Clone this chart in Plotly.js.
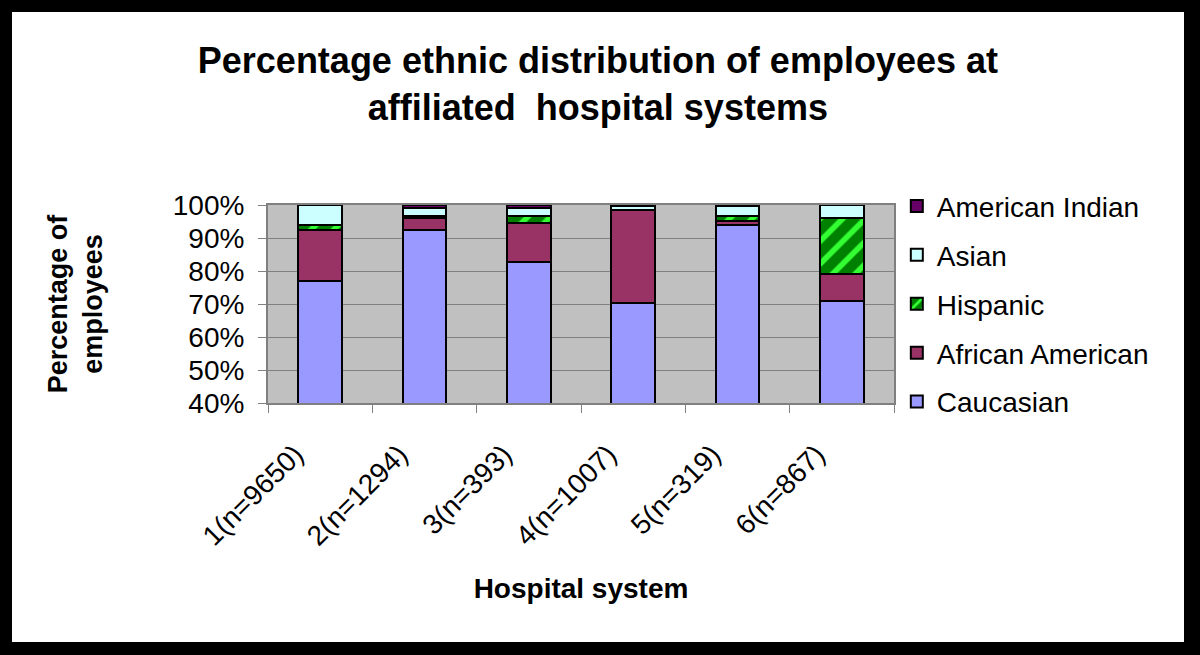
<!DOCTYPE html>
<html>
<head>
<meta charset="utf-8">
<script src="https://cdn.plot.ly/plotly-3.0.1.min.js"></script>
<style>
html, body { margin: 0; padding: 0; background: #000; width: 1200px; height: 655px; overflow: hidden; }
#chart { position: absolute; left: 12px; top: 12px; width: 1172px; height: 630px; background: #fff; }
</style>
</head>
<body>
<div id="chart"></div>
<script>
const categories = ['1(n=9650)', '2(n=1294)', '3(n=393)', '4(n=1007)', '5(n=319)', '6(n=867)'];
const caucasian = [77.0, 92.5, 82.8, 70.2, 93.9, 70.9];
const africanAmerican = [15.4, 3.5, 11.7, 28.2, 1.3, 8.2];
const hispanic = [1.4, 0.6, 2.3, 0.1, 1.6, 17.1];
const asian = [6.1, 2.4, 2.2, 1.3, 3.0, 3.8];
const americanIndian = [0.1, 1.0, 1.0, 0.2, 0.2, 0.0];
const yTickVals = [40, 50, 60, 70, 80, 90, 100];
const yTickText = ['40%', '50%', '60%', '70%', '80%', '90%', '100%'];

const outline = { color: '#000', width: 2 };
function series(name, y, color, rank, extra) {
  const m = Object.assign({ color: color, line: outline }, extra || {});
  return { type: 'bar', name: name, x: categories, y: y, marker: m, legendgroup: name, legendrank: rank, hoverinfo: 'name+y' };
}
const data = [
  series('Caucasian', caucasian, '#9999ff', 5),
  series('African American', africanAmerican, '#993366', 4),
  series('Hispanic', hispanic, '#008000', 3, { pattern: { shape: '/', fgcolor: '#33ff33', bgcolor: '#008000', size: 16, solidity: 0.35, fillmode: 'replace' } }),
  series('Asian', asian, '#ccffff', 2),
  series('American Indian', americanIndian, '#660066', 1)
];

const F = '"Liberation Sans", Arial, sans-serif';
const layout = {
  width: 1172, height: 630,
  margin: { l: 256, r: 290, t: 193, b: 239 },
  paper_bgcolor: '#ffffff',
  plot_bgcolor: '#c0c0c0',
  barmode: 'stack',
  bargap: 0.58,
  showlegend: true,
  font: { family: F, color: '#000', size: 27 },
  title: {
    text: '<b>Percentage ethnic distribution of employees at<br>affiliated  hospital systems</b>',
    font: { family: F, size: 36, color: '#000' },
    x: 0.527, xref: 'paper', xanchor: 'center',
    y: 0.903, yref: 'container', yanchor: 'middle'
  },
  xaxis: {
    type: 'category',
    tickangle: -45,
    tickson: 'boundaries',
    ticks: 'outside', ticklen: 8, tickcolor: '#808080', tickwidth: 1,
    tickfont: { family: F, size: 28, color: '#000' },
    ticklabelshift: -25,
    ticklabelstandoff: 22,
    showline: true, linecolor: '#808080', linewidth: 2, mirror: true,
    showgrid: false,
    title: { text: '<b>Hospital system</b>', font: { family: F, size: 28, color: '#000' }, standoff: 28 }
  },
  yaxis: {
    range: [40, 100],
    tickvals: yTickVals, ticktext: yTickText,
    ticks: 'outside', ticklen: 8, tickcolor: '#808080', tickwidth: 1,
    tickfont: { family: F, size: 28, color: '#000' },
    ticklabelstandoff: 8,
    showline: true, linecolor: '#808080', linewidth: 2, mirror: true,
    showgrid: true, gridcolor: '#808080', gridwidth: 1,
    zeroline: false,
    title: { text: '<b>Percentage of<br>employees</b>', font: { family: F, size: 27, color: '#000' }, standoff: 62 }
  },
  legend: {
    x: 1.0045, xanchor: 'left', y: 1.12, yanchor: 'top',
    traceorder: 'grouped',
    tracegroupgap: 9.5,
    font: { family: F, size: 28, color: '#000' },
    bgcolor: 'rgba(0,0,0,0)'
  }
};

Plotly.newPlot('chart', data, layout, { displayModeBar: false, staticPlot: true });
</script>
</body>
</html>
